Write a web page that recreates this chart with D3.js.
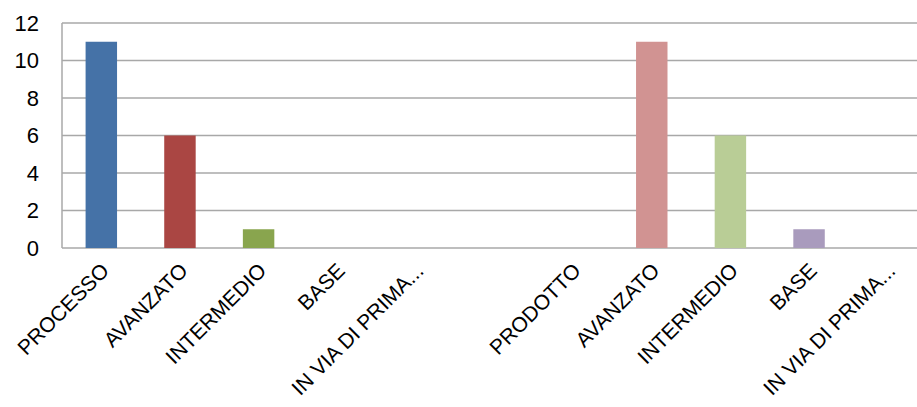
<!DOCTYPE html>
<html>
<head>
<meta charset="utf-8">
<script src="https://cdn.jsdelivr.net/npm/d3@7"></script>
<style>
body { margin: 0; background: #fff; }
text { font-family: "Liberation Sans", Arial, sans-serif; fill: #000; }
</style>
</head>
<body>
<script>
var w = 917;
var h = 407;

// categories (index 5 is an empty spacer slot)
var categories = ["PROCESSO", "AVANZATO", "INTERMEDIO", "BASE", "IN VIA DI PRIMA...", "",
                  "PRODOTTO", "AVANZATO", "INTERMEDIO", "BASE", "IN VIA DI PRIMA..."];
var values = [11, 6, 1, 0, 0, null, 0, 11, 6, 1, 0];
var colors = ["#4572a7", "#aa4643", "#89a54e", "#71588f", "#4198af", "#fff",
              "#db843d", "#d19392", "#b9cd96", "#a99bbd", "#92c3d4"];
var yTicks = [0, 2, 4, 6, 8, 10, 12];

var svg = d3.select("body").append("svg")
            .attr("width", w)
            .attr("height", h);

var x = d3.scaleBand()
          .domain(d3.range(categories.length))
          .range([62, 927])
          .paddingInner(0.6)
          .paddingOuter(0.3);

var y = d3.scaleLinear()
          .domain([0, 12])
          .range([248, 23]);

// grid lines
svg.append("g")
   .selectAll("line")
   .data(yTicks)
   .enter().append("line")
   .attr("x1", 62)
   .attr("x2", w)
   .attr("y1", function(d) { return y(d); })
   .attr("y2", function(d) { return y(d); })
   .attr("stroke", "#a8a8a8")
   .attr("stroke-width", 1.5);

// left axis line
svg.append("line")
   .attr("x1", 62).attr("x2", 62)
   .attr("y1", y(12)).attr("y2", y(0))
   .attr("stroke", "#a8a8a8")
   .attr("stroke-width", 1.5);

// y labels
var yAxis = svg.append("g")
   .attr("transform", "translate(62,0)")
   .call(d3.axisLeft(y).tickValues(yTicks).tickSize(0).tickPadding(23));
yAxis.select(".domain").remove();
yAxis.selectAll("text").style("font-size", "22px")
     .style("font-family", "Liberation Sans, Arial, sans-serif");

// bars
var barData = values.map(function(v, i) { return { v: v, i: i }; })
                    .filter(function(d) { return d.v > 0; });
svg.append("g")
   .selectAll("rect")
   .data(barData)
   .enter().append("rect")
   .attr("x", function(d) { return x(d.i); })
   .attr("width", x.bandwidth())
   .attr("y", function(d) { return y(d.v); })
   .attr("height", function(d) { return y(0) - y(d.v); })
   .attr("fill", function(d) { return colors[d.i]; });

// x labels
svg.append("g")
   .selectAll("text")
   .data(categories)
   .enter().append("text")
   .attr("transform", function(d, i) {
      return "translate(" + (x(i) + x.bandwidth() / 2 + 9) + ",272) rotate(-45)";
   })
   .attr("text-anchor", "end")
   .style("font-size", "21px")
   .text(function(d) { return d; });
</script>
</body>
</html>
